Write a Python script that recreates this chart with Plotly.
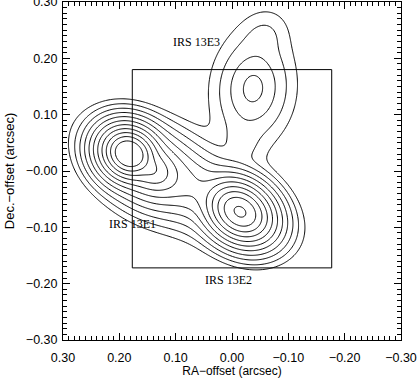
import numpy as np
import plotly.graph_objects as go

# ---- data: emission components (RA/Dec offsets in arcsec) ----
comp_name   = ["IRS 13E1", "E1 wing", "IRS 13E2", "IRS 13E3", "bridge", "neck", "cap"]
comp_ra     = [0.1828, 0.142, -0.0142, -0.0373, 0.0834, -0.0180, -0.0560]
comp_dec    = [0.0307, 0.0022, -0.0724, 0.1462, -0.0209, 0.0520, 0.2380]
comp_lnpeak = [0.35, -2.0, 0.43, -6.7, -5.0, -8.8, -8.9]
comp_smaj   = [0.0078, 0.0140, 0.0094, 0.0267, 0.0320, 0.0178, 0.0190]
comp_smin   = [0.0067, 0.0107, 0.0072, 0.0196, 0.0142, 0.0142, 0.0160]
comp_pa     = [-30, -30, -35, 85, -28, 90, 60]
comp_core   = [3.0, 1.0, 2.2, 0.7, 1.5, 1.0, 1.0]
comp_soft   = [0.3, 0.5, 1.2, 0.3, 0.5, 0.5, 0.5]

label_text = ["IRS 13E3", "IRS 13E1", "IRS 13E2"]
label_ra   = [0.0639, 0.1775, 0.0071]
label_dec  = [0.2298, -0.0938, -0.1933]

box_ra  = [0.177, -0.177]
box_dec = [-0.172, 0.180]

tick_vals   = [0.30, 0.20, 0.10, 0.00, -0.10, -0.20, -0.30]
xtick_text  = ["0.30", "0.20", "0.10", "0.00", "\u22120.10", "\u22120.20", "\u22120.30"]
ytick_text  = ["0.30", "0.20", "0.10", "\u22120.00", "\u22120.10", "\u22120.20", "\u22120.30"]

# ---- build the map ----
gx = np.linspace(0.30, -0.30, 361)
gy = np.linspace(-0.30, 0.30, 361)
X, Y = np.meshgrid(gx, gy)
terms = []
for x0, y0, lp, sa, sb, pa, c0, w in zip(comp_ra, comp_dec, comp_lnpeak, comp_smaj,
                                         comp_smin, comp_pa, comp_core, comp_soft):
    th = np.deg2rad(pa)
    u = -(X - x0)
    v = Y - y0
    a = u * np.cos(th) + v * np.sin(th)
    b = -u * np.sin(th) + v * np.cos(th)
    rho = np.sqrt((a / sa) ** 2 + (b / sb) ** 2)
    terms.append(lp - w * np.logaddexp(0, (rho - c0) / w))
Z = np.logaddexp.reduce(np.array(terms), axis=0)

fig = go.Figure()
fig.add_trace(go.Contour(
    x=gx, y=gy, z=Z,
    contours=dict(start=-10, end=0, size=1, coloring="lines"),
    colorscale=[[0, "black"], [1, "black"]],
    line=dict(width=1, color="black"),
    showscale=False, hoverinfo="skip",
))

fig.add_shape(type="rect", x0=box_ra[0], x1=box_ra[1], y0=box_dec[0], y1=box_dec[1],
              line=dict(color="black", width=1), layer="above")

for t, xr, yd in zip(label_text, label_ra, label_dec):
    fig.add_annotation(x=xr, y=yd, text=t, showarrow=False,
                       font=dict(family="Liberation Serif", size=12, color="black"))

axis_common = dict(
    showgrid=False, zeroline=False, showline=True, linecolor="black", linewidth=1,
    mirror="ticks", ticks="inside", ticklen=7, tickwidth=1, tickcolor="black",
    tickvals=tick_vals, automargin=False, ticklabeloverflow="allow",
    tickfont=dict(family="Liberation Sans", size=12.5, color="black"),
    minor=dict(ticks="inside", ticklen=4, dtick=0.01, tickcolor="black", tickwidth=1, showgrid=False),
)
fig.update_layout(
    width=420, height=378,
    margin=dict(l=63, r=19, t=2, b=38),
    paper_bgcolor="white", plot_bgcolor="white",
    showlegend=False,
    xaxis=dict(range=[0.30, -0.30], ticktext=xtick_text, ticklabelstandoff=6,
               title=dict(text="RA\u2212offset (arcsec)", standoff=1,
                          font=dict(family="Liberation Sans", size=12, color="black")),
               **axis_common),
    yaxis=dict(range=[-0.30, 0.30], ticktext=ytick_text, ticklabelstandoff=2,
               title=dict(text="Dec.\u2212offset (arcsec)", standoff=8,
                          font=dict(family="Liberation Sans", size=13, color="black")),
               **axis_common),
)
fig.write_html("out.html", config={"displayModeBar": False},
               post_script="document.body.style.margin='0';document.body.style.padding='0';")
